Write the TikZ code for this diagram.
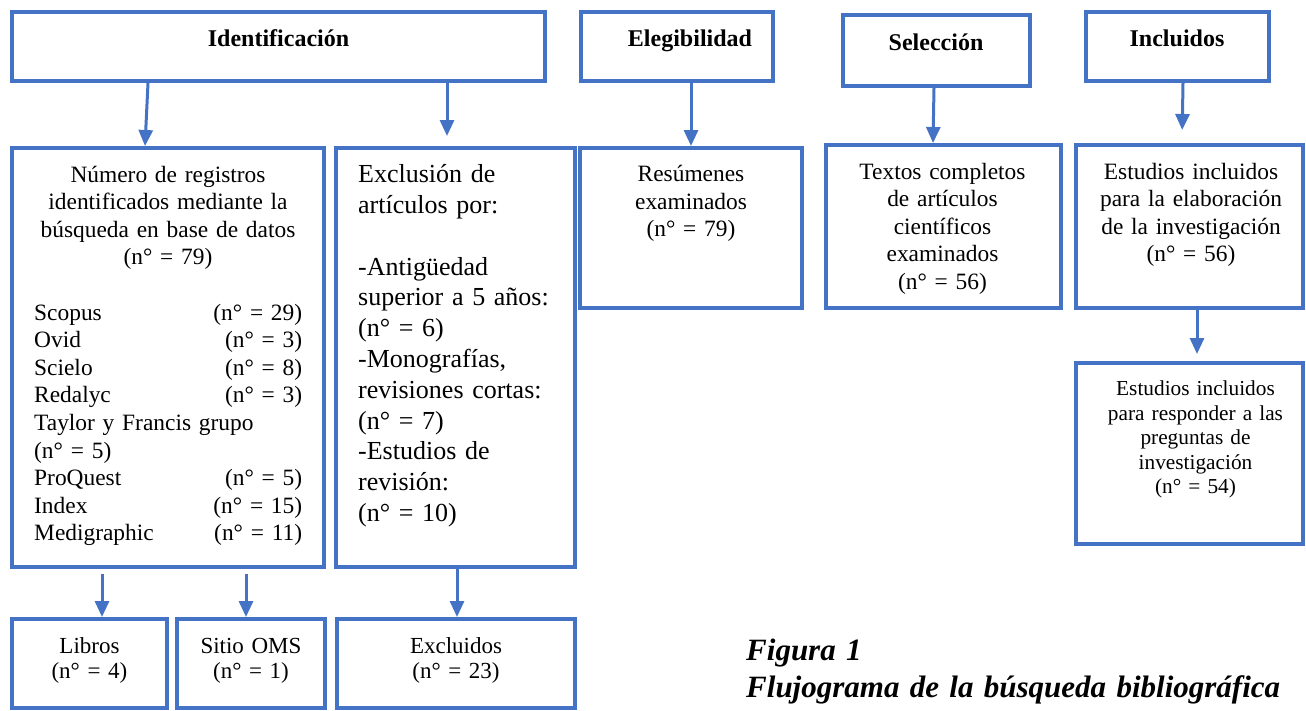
\documentclass[tikz,border=0pt]{standalone}
\usepackage{fontspec}
\setmainfont{Liberation Serif}
\usetikzlibrary{arrows.meta}
\definecolor{azul}{HTML}{4472C4}
\tikzset{
    caja/.style={draw=azul,line width=4pt,inner sep=0pt},
    flecha/.style={draw=azul,line width=3pt,-{Triangle[length=16pt,width=14pt]}},
    titulo/.style={inner sep=0pt,anchor=base,font=\fontsize{24}{28}\selectfont\bfseries},
    texto/.style={inner sep=0pt,anchor=base,align=center,font=\fontsize{23.4}{27.6}\selectfont},
}
\begin{document}
\begin{tikzpicture}[x=1pt,y=-1pt]
    \useasboundingbox (0,0) rectangle (1306,710);
    %% Fases
    \node[caja,minimum width=533pt,minimum height=69pt] (ident) at (278.5,46.5) {};
    \node[caja,minimum width=192pt,minimum height=69pt] (eleg) at (677,46.5) {};
    \node[caja,minimum width=187pt,minimum height=71pt] (selec) at (936.5,50.5) {};
    \node[caja,minimum width=183pt,minimum height=69pt] (inclu) at (1177.5,46.5) {};
    \node[titulo] (t-ident) at (278.5,46) {Identificación};
    \node[titulo] (t-eleg) at (690,46) {Elegibilidad};
    \node[titulo] (t-selec) at (936,50) {Selección};
    \node[titulo] (t-inclu) at (1177,46) {Incluidos};
    %% Cajas del medio
    \node[caja,minimum width=312pt,minimum height=419pt] (num) at (168,357.5) {};
    \node[caja,minimum width=239pt,minimum height=419pt] (excl) at (455.5,357.5) {};
    \node[caja,minimum width=222pt,minimum height=160pt] (res) at (691,228) {};
    \node[caja,minimum width=235pt,minimum height=163pt] (textos) at (943.5,226.5) {};
    \node[caja,minimum width=227pt,minimum height=163pt] (estud) at (1189.5,226.5) {};
    \node[caja,minimum width=227pt,minimum height=181pt] (estud2) at (1189.5,453.5) {};
    %% Registros
    \node[texto,text width=290pt] (t-num) at (168,182)
        {Número de registros\\identificados mediante la\\búsqueda en base de datos\\(n° = 79)};
    \node[texto,anchor=base west,align=left,text width=268pt] (t-bases) at (34,320)
        {Scopus\hfill(n° = 29)\\Ovid\hfill(n° = 3)\\Scielo\hfill(n° = 8)\\Redalyc\hfill(n° = 3)\\
         Taylor y Francis grupo\\(n° = 5)\\ProQuest\hfill(n° = 5)\\Index\hfill(n° = 15)\\
         Medigraphic\hfill(n° = 11)};
    \node[texto,anchor=base west,align=left,text width=215pt,
          font=\fontsize{26}{30.8}\selectfont] (t-excl) at (358,182.7)
        {Exclusión de\\artículos por:\\[30.8pt]-Antigüedad\\superior a 5 años:\\(n° = 6)\\
         -Monografías,\\revisiones cortas:\\(n° = 7)\\-Estudios de\\revisión:\\(n° = 10)};
    \node[texto,text width=210pt] (t-res) at (691,181.7) {Resúmenes\\examinados\\(n° = 79)};
    \node[texto,text width=225pt] (t-textos) at (942.5,179)
        {Textos completos\\de artículos\\científicos\\examinados\\(n° = 56)};
    \node[texto,text width=220pt] (t-estud) at (1191,179)
        {Estudios incluidos\\para la elaboración\\de la investigación\\(n° = 56)};
    \node[texto,text width=220pt,font=\fontsize{21.3}{24.5}\selectfont] (t-estud2) at (1195.5,395.7)
        {Estudios incluidos\\para responder a las\\preguntas de\\investigación\\(n° = 54)};
    %% Cajas de abajo
    \node[caja,minimum width=155pt,minimum height=89pt] (libros) at (89.5,663.5) {};
    \node[caja,minimum width=148pt,minimum height=89pt] (oms) at (251,663.5) {};
    \node[caja,minimum width=238pt,minimum height=89pt] (exclu) at (456,663.5) {};
    \node[texto,text width=150pt,font=\fontsize{23}{25}\selectfont] (t-libros) at (89.5,653) {Libros\\(n° = 4)};
    \node[texto,text width=145pt,font=\fontsize{23}{25}\selectfont] (t-oms) at (251,653) {Sitio OMS\\(n° = 1)};
    \node[texto,text width=230pt,font=\fontsize{23}{25}\selectfont] (t-exclu) at (456,653) {Excluidos\\(n° = 23)};
    %% Flechas
    \draw[flecha] (148,0 |- ident.south) -- (145,0 |- num.north);
    \draw[flecha,shorten >=10pt] (447,0 |- ident.south) -- (447,0 |- excl.north);
    \draw[flecha] (691,0 |- eleg.south) -- (691,0 |- res.north);
    \draw[flecha] (934,0 |- selec.south) -- (933,0 |- textos.north);
    \draw[flecha,shorten >=13pt] (1183,0 |- inclu.south) -- (1182,0 |- estud.north);
    \draw[flecha,shorten >=7pt] (1197,0 |- estud.south) -- (1197,0 |- estud2.north);
    \draw[flecha,shorten <=5pt] (102,0 |- num.south) -- (102,0 |- libros.north);
    \draw[flecha,shorten <=5pt] (246,0 |- num.south) -- (246,0 |- oms.north);
    \draw[flecha] (457,0 |- excl.south) -- (457,0 |- exclu.north);
    %% Figura
    \node[anchor=base west,inner sep=0pt,align=left,text width=560pt,
          font=\fontsize{31}{37}\selectfont\bfseries\itshape] (fig) at (746,660)
        {Figura 1\\Flujograma de la búsqueda bibliográfica};
\end{tikzpicture}
\end{document}
